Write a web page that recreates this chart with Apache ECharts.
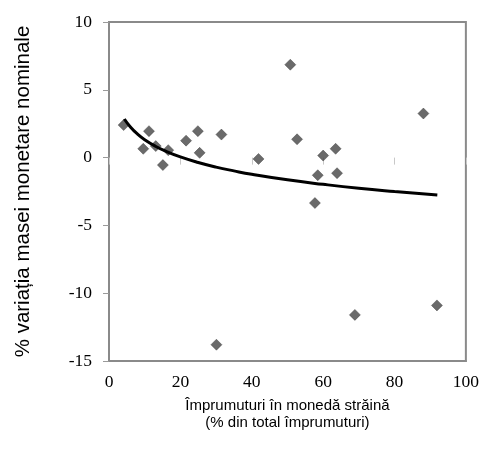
<!DOCTYPE html>
<html>
<head>
<meta charset="utf-8">
<script src="https://cdn.jsdelivr.net/npm/echarts@6/dist/echarts.min.js"></script>
<style>html,body{margin:0;padding:0;background:#fff}#c{width:482px;height:452px}</style>
</head>
<body>
<div id="c"></div>
<script>
// Scatter data: foreign-currency loans (% of total loans) vs nominal money growth (%)
const loanShare = [4.1, 11.2, 9.6, 13.1, 16.6, 15.1, 21.6, 24.9, 25.4, 31.5, 41.9, 50.8, 52.7, 58.5, 60.0, 63.5, 63.9, 88.1, 57.7, 30.1, 68.9, 91.9];
const moneyChange = [2.4, 1.95, 0.65, 0.85, 0.55, -0.55, 1.25, 1.95, 0.35, 1.7, -0.1, 6.85, 1.35, -1.3, 0.15, 0.65, -1.15, 3.25, -3.35, -13.8, -11.6, -10.9];
// Trend line points
const trendX = [4.3, 6, 8, 10, 13, 16, 20, 25, 30, 35, 40, 50, 60, 70, 80, 92];
const trendY = [2.85, 2.26, 1.73, 1.32, 0.84, 0.46, 0.05, -0.36, -0.70, -0.98, -1.23, -1.64, -1.97, -2.26, -2.5, -2.76];
const xTicks = [0, 20, 40, 60, 80, 100];
const yTicks = [-15, -10, -5, 0, 5, 10];

const xTitle = 'Împrumuturi în monedă străină\n(% din total împrumuturi)';
const yTitle = '% variația masei monetare nominale';

const chart = echarts.init(document.getElementById('c'), null, {renderer: 'canvas'});
chart.setOption({
  animation: false,
  backgroundColor: '#fff',
  grid: {left: 109, right: 15, top: 22, bottom: 91, show: true, borderColor: '#8a8a8a', borderWidth: 2, backgroundColor: 'transparent'},
  xAxis: [{
    type: 'value', min: xTicks[0], max: xTicks[xTicks.length - 1], interval: 20, position: 'bottom',
    axisLine: {onZero: false, lineStyle: {color: '#8a8a8a', width: 2}},
    axisTick: {show: false},
    splitLine: {show: false},
    axisLabel: {color: '#000', fontFamily: 'Liberation Serif', fontSize: 17.5, margin: 12},
    name: xTitle, nameLocation: 'middle', nameGap: 36,
    nameTextStyle: {color: '#000', fontFamily: 'Liberation Sans', fontSize: 15, lineHeight: 17}
  }, {
    type: 'value', min: xTicks[0], max: xTicks[xTicks.length - 1], interval: 20, position: 'top',
    axisLine: {show: false, onZero: true},
    axisTick: {show: true, inside: true, length: 7, lineStyle: {color: '#c8c8c8', width: 1}},
    axisLabel: {show: false},
    splitLine: {show: false}
  }],
  yAxis: {
    type: 'value', min: yTicks[0], max: yTicks[yTicks.length - 1], interval: 5,
    axisLine: {show: true, onZero: false, lineStyle: {color: '#8a8a8a', width: 2}},
    axisTick: {show: true, length: 6, lineStyle: {color: '#9a9a9a', width: 1}},
    splitLine: {show: false},
    axisLabel: {color: '#000', fontFamily: 'Liberation Serif', fontSize: 17.5, margin: 17},
    name: yTitle, nameLocation: 'middle', nameGap: 75, nameRotate: 90,
    nameTextStyle: {color: '#000', fontFamily: 'Liberation Sans', fontSize: 20.5}
  },
  series: [{
    type: 'scatter',
    symbol: 'diamond', symbolSize: 11,
    itemStyle: {color: '#454545', borderColor: '#333', borderWidth: 0.5},
    data: loanShare.map((x, i) => [x, moneyChange[i]]),
    z: 3
  }, {
    type: 'line',
    showSymbol: false, symbol: 'none', smooth: true,
    lineStyle: {color: '#000', width: 3},
    data: trendX.map((x, i) => [x, trendY[i]]),
    z: 4
  }]
});
</script>
</body>
</html>
